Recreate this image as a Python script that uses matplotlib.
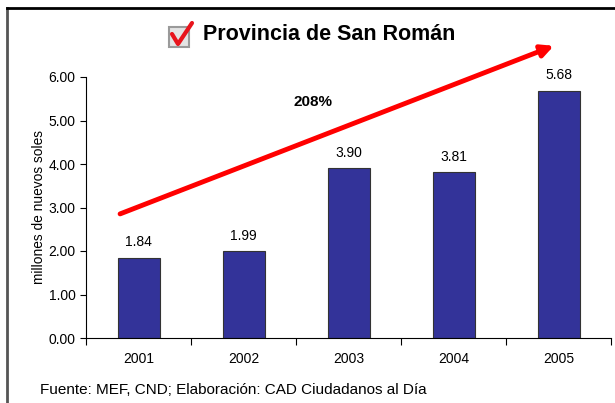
import matplotlib.pyplot as plt
from matplotlib.patches import Rectangle
from matplotlib.lines import Line2D

plt.rcParams['font.family'] = ['Liberation Sans', 'DejaVu Sans']

years = ["2001", "2002", "2003", "2004", "2005"]
values = [1.84, 1.99, 3.90, 3.81, 5.68]
growth_label = "208%"

W, H = 615, 403
fig = plt.figure(figsize=(W / 100, H / 100), dpi=100)
ax = fig.add_axes([86 / W, 1 - 338 / H, (611 - 86) / W, (338 - 77) / H])

x = range(len(years))
ax.bar(x, values, width=0.4, color="#333399", edgecolor="#333333", linewidth=0.8)
for xi, v in zip(x, values):
    ax.text(xi, v + 0.2, f"{v:.2f}", ha="center", va="bottom", fontsize=10)

ax.set_xlim(-0.5, len(years) - 0.5)
ax.set_ylim(0, 6)
ax.set_yticks([0, 1, 2, 3, 4, 5, 6])
ax.set_yticklabels([f"{t:.2f}" for t in range(7)], fontsize=10)
# category boundaries get the tick marks, labels sit in between
ax.set_xticks([i + 0.5 for i in range(-1, len(years))])
ax.set_xticklabels([])
ax.set_xticks(list(x), minor=True)
ax.set_xticklabels(years, minor=True, fontsize=10)
ax.tick_params(axis="x", which="major", direction="out", length=5, width=0.8)
ax.tick_params(axis="x", which="minor", length=0, pad=10)
ax.tick_params(axis="y", direction="out", length=4, width=0.8)
ax.spines["top"].set_visible(False)
ax.spines["right"].set_visible(False)
ax.set_ylabel("millones de nuevos soles", fontsize=9.9, labelpad=2)

# growth arrow
ax.annotate("", xy=(3.98, 6.74), xytext=(-0.2, 2.83),
            arrowprops=dict(arrowstyle="-|>", color="red", lw=3.5, mutation_scale=18),
            annotation_clip=False)
ax.text(1.66, 5.43, growth_label, fontsize=11, fontweight="bold", ha="center", va="center")

# title with checkbox icon
fig.text(203 / W, 1 - 35 / H, "Provincia de San Román", fontsize=15.5, fontweight="bold",
         ha="left", va="center")
fig.add_artist(Rectangle((169 / W, 1 - 47 / H), 20 / W, 20 / H, transform=fig.transFigure,
                         facecolor="#e4e4e4", edgecolor="#9a9a9a", linewidth=1.5))
fig.add_artist(Line2D([172 / W, 178 / W, 192 / W], [1 - 34 / H, 1 - 44 / H, 1 - 23 / H],
                      transform=fig.transFigure, color="#e8141c", linewidth=3,
                      solid_capstyle="round", solid_joinstyle="round"))

# frame lines
fig.add_artist(Line2D([7 / W, 7 / W], [0, 1 - 8 / H], transform=fig.transFigure,
                      color="#555555", linewidth=2))
fig.add_artist(Line2D([7 / W, 1], [1 - 8 / H, 1 - 8 / H], transform=fig.transFigure,
                      color="black", linewidth=2))

fig.text(40 / W, 1 - 390 / H, "Fuente: MEF, CND; Elaboración: CAD Ciudadanos al Día",
         fontsize=11, ha="left", va="center")

fig.savefig("out.png", dpi=100)
